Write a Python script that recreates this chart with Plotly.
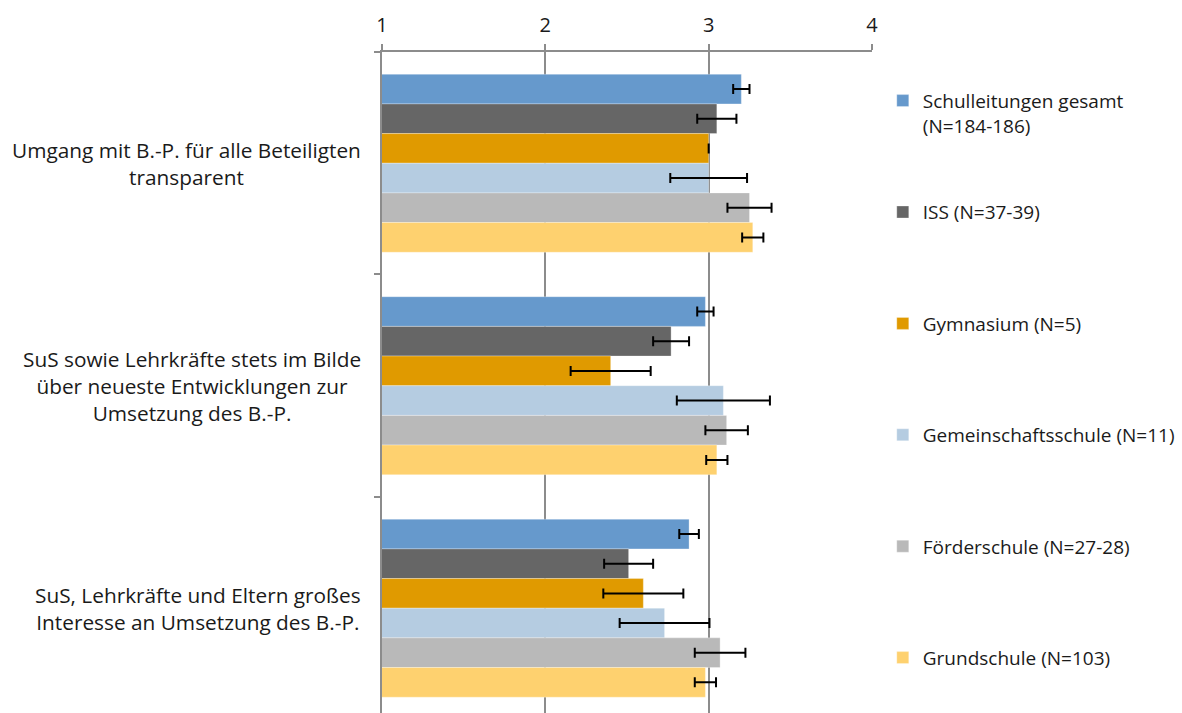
import plotly.graph_objects as go

# Aussagen (Kategorien der y-Achse)
categories = [
    "Umgang mit B.-P. für alle Beteiligten<br>transparent",
    "SuS sowie Lehrkräfte stets im Bilde<br>über neueste Entwicklungen zur<br>Umsetzung des B.-P.",
    "SuS, Lehrkräfte und Eltern großes<br>Interesse an Umsetzung des B.-P.",
]

series_names = [
    "Schulleitungen gesamt<br>(N=184-186)",
    "ISS (N=37-39)",
    "Gymnasium (N=5)",
    "Gemeinschaftsschule (N=11)",
    "Förderschule (N=27-28)",
    "Grundschule (N=103)",
]

# Mittelwerte je Schulform
mean_gesamt = [3.20, 2.98, 2.88]
mean_iss = [3.05, 2.77, 2.51]
mean_gym = [3.00, 2.40, 2.60]
mean_gems = [3.00, 3.09, 2.73]
mean_foerder = [3.25, 3.11, 3.07]
mean_grund = [3.27, 3.05, 2.98]

# Fehlerbalken (halbe Breite)
err_gesamt = [0.05, 0.05, 0.06]
err_iss = [0.12, 0.11, 0.15]
err_gym = [0.0, 0.245, 0.245]
err_gems = [0.235, 0.285, 0.275]
err_foerder = [0.135, 0.13, 0.155]
err_grund = [0.065, 0.065, 0.065]

colors = ["#6699CC", "#666666", "#E09A00", "#B5CCE1", "#B9B9B9", "#FED16F"]

means = [mean_gesamt, mean_iss, mean_gym, mean_gems, mean_foerder, mean_grund]
errs = [err_gesamt, err_iss, err_gym, err_gems, err_foerder, err_grund]

FONT = "Open Sans"
TEXT = "#1a1a1a"
GRID = "#8c8c8c"

fig = go.Figure()
for i, (name, m, e, c) in enumerate(zip(series_names, means, errs, colors)):
    label = name if "<br>" in name else name + "<br>\u00a0"
    fig.add_trace(go.Bar(
        y=categories,
        x=m,
        base=0,
        orientation="h",
        name=label,
        legendgroup=f"g{i}",
        marker=dict(color=c, line=dict(color="rgba(255,255,255,0.6)", width=0.5)),
        error_x=dict(type="data", array=e, visible=True, color="black",
                     thickness=2, width=5),
    ))

for cat in categories:
    fig.add_annotation(
        x=0, xref="paper", y=cat, yref="y",
        xanchor="right", xshift=-19, align="center",
        text=cat, showarrow=False,
        font=dict(family=FONT, size=20.8, color=TEXT),
    )

fig.update_layout(
    width=1182, height=713,
    margin=dict(l=382, r=310, t=52, b=0, autoexpand=False),
    paper_bgcolor="white", plot_bgcolor="white",
    barmode="group", bargap=0.2, bargroupgap=0,
    font=dict(family=FONT, size=19, color=TEXT),
    legend=dict(
        x=1.022, xanchor="left", y=0.955, yanchor="top",
        valign="top", tracegroupgap=59,
        font=dict(family=FONT, size=19, color=TEXT),
        itemwidth=30,
    ),
    xaxis=dict(
        side="top", range=[1, 4], tickmode="array", tickvals=[1, 2, 3, 4],
        ticktext=["1", "2", "3", "4"],
        showgrid=True, gridcolor=GRID, gridwidth=2,
        showline=True, linecolor=GRID, linewidth=2,
        ticks="outside", ticklen=6, tickcolor=GRID, tickwidth=2,
        tickfont=dict(family=FONT, size=20, color=TEXT),
        ticklabelstandoff=4,
        zeroline=False,
    ),
    yaxis=dict(
        type="category", range=[2.471, -0.5],
        showticklabels=False, showgrid=False,
        showline=True, linecolor=GRID, linewidth=2,
        ticks="outside", ticklen=6, tickcolor=GRID, tickwidth=2,
        tickson="boundaries",
    ),
)

fig.write_html("out.html")
